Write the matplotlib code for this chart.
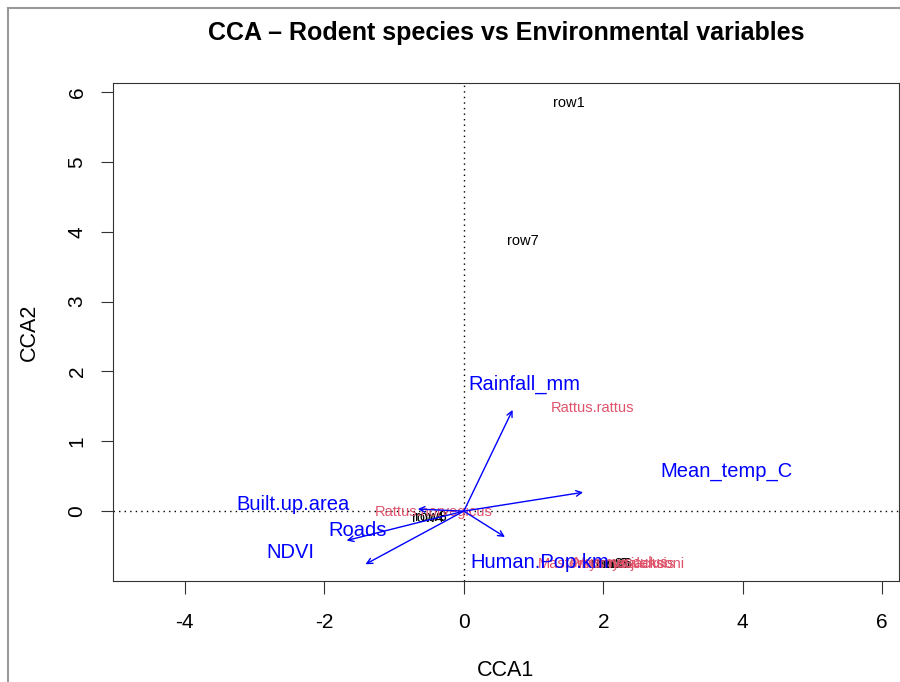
import matplotlib
matplotlib.use('Agg')
import matplotlib.pyplot as plt
from matplotlib.lines import Line2D

plt.rcParams['font.family'] = ['Liberation Sans', 'DejaVu Sans']
plt.rcParams['axes.unicode_minus'] = False

# site scores (black)
site_names = ['row1', 'row7', 'row4', 'row8', 'row2', 'row3', 'row6', 'row5']
site_x = [1.51, 0.85, -0.52, -0.47, 2.05, 2.12, 2.18, 2.15]
site_y = [5.85, 3.87, -0.10, -0.08, -0.76, -0.75, -0.76, -0.75]

# species scores (red)
sp_names = ['Rattus.rattus', 'Rattus.norvegicus', 'Mastomys.natalensis',
            'Praomys.jacksoni', 'Mus.musculus']
sp_x = [1.85, -0.43, 2.05, 2.35, 2.25]
sp_y = [1.48, -0.01, -0.75, -0.76, -0.74]

# biplot arrows (blue)
env_names = ['Rainfall_mm', 'Mean_temp_C', 'Human.Pop.km', 'Built.up.area', 'Roads', 'NDVI']
env_x = [0.70, 1.71, 0.59, -0.66, -1.68, -1.41]
env_y = [1.45, 0.27, -0.37, 0.03, -0.42, -0.76]
lab_x = [0.87, 3.77, 1.09, -2.45, -1.53, -2.48]
lab_y = [1.81, 0.57, -0.73, 0.09, -0.27, -0.59]

fig = plt.figure(figsize=(9, 6.82), dpi=100)
ax = fig.add_axes([113 / 900, 101 / 682, 786 / 900, 498 / 682])

ax.axhline(0, color='black', linestyle=(0, (1, 3)), linewidth=1)
ax.axvline(0, color='black', linestyle=(0, (1, 3)), linewidth=1)

for n, x, y in zip(site_names, site_x, site_y):
    ax.text(x, y, n, color='black', fontsize=10.5, ha='center', va='center')
for n, x, y in zip(sp_names, sp_x, sp_y):
    ax.text(x, y, n, color='#DF536B', fontsize=10.5, ha='center', va='center')
for x, y in zip(env_x, env_y):
    ax.annotate('', xy=(x, y), xytext=(0, 0),
                arrowprops=dict(arrowstyle='->', color='blue', lw=1,
                                mutation_scale=10, shrinkA=0, shrinkB=0))
for n, x, y in zip(env_names, lab_x, lab_y):
    ax.text(x, y, n, color='blue', fontsize=14.5, ha='center', va='center')

ax.set_xlim(-5.03, 6.24)
ax.set_ylim(-1.0, 6.13)
ax.set_xticks([-4, -2, 0, 2, 4, 6])
ax.set_yticks([0, 1, 2, 3, 4, 5, 6])
ax.tick_params(labelsize=15, length=9, color='#333333')
ax.tick_params(axis='x', pad=14)
ax.tick_params(axis='y', pad=10)
for lbl in ax.get_yticklabels():
    lbl.set_rotation(90)
    lbl.set_va('center')
for s in ax.spines.values():
    s.set_color('#333333')

ax.set_xlabel('CCA1', fontsize=15.5, labelpad=20)
ax.set_ylabel('CCA2', fontsize=15.5, labelpad=20)
fig.text(506 / 900, 1 - 33 / 682, 'CCA \u2013 Rodent species vs Environmental variables',
         fontsize=18, fontweight='bold', ha='center', va='center')

# window frame of the screenshot
fig.add_artist(Line2D([8 / 900, 8 / 900], [0, 1 - 8 / 682], color='#999999', lw=1.5))
fig.add_artist(Line2D([8 / 900, 1], [1 - 8 / 682, 1 - 8 / 682], color='#999999', lw=1.5))

fig.savefig('out.png', dpi=100)
